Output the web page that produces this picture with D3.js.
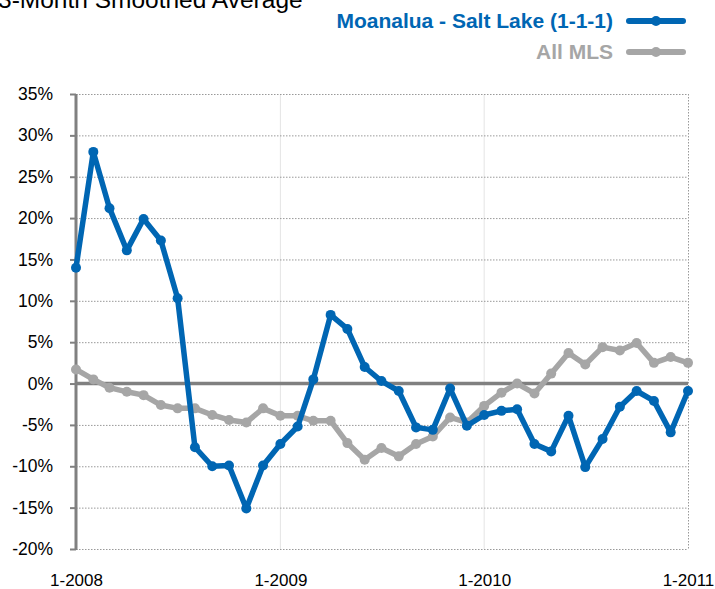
<!DOCTYPE html>
<meta charset="UTF-8">
<style>
  body { margin: 0; background: #fff; }
  svg { display: block; font-family: Arial, "Liberation Sans", sans-serif; }
  .grid line { stroke: #999; stroke-width: 1; stroke-dasharray: 1.5 1.5; }
  .vgrid line { stroke: #e4e4e4; stroke-width: 1; }
  .tick text { fill: #000; }
</style>
<body>
<script src="https://cdn.jsdelivr.net/npm/d3@7"></script>
<script>
  // monthly, 1-2008 .. 1-2011
  var months = d3.timeMonth.range(new Date(2008, 0, 1), new Date(2011, 0, 2));
  var moanalua = [14.0, 28.0, 21.2, 16.1, 19.9, 17.3, 10.3, -7.7, -10.0, -9.9, -15.1, -9.9,
    -7.3, -5.2, 0.5, 8.3, 6.6, 2.0, 0.3, -0.9, -5.3, -5.6, -0.6, -5.1,
    -3.8, -3.3, -3.1, -7.3, -8.2, -3.9, -10.1, -6.7, -2.8, -0.9, -2.1, -5.9, -0.9];
  var allMLS = [1.7, 0.5, -0.5, -1.0, -1.4, -2.6, -3.0, -3.0, -3.8, -4.4, -4.7, -3.0,
    -3.9, -3.9, -4.5, -4.5, -7.2, -9.2, -7.8, -8.8, -7.3, -6.4, -4.1, -4.7,
    -2.7, -1.1, 0.0, -1.2, 1.2, 3.7, 2.3, 4.4, 4.0, 4.9, 2.5, 3.2, 2.5];
  var yTicks = [-20, -15, -10, -5, 0, 5, 10, 15, 20, 25, 30, 35];
  var xTicks = [new Date(2008, 0, 1), new Date(2009, 0, 1), new Date(2010, 0, 1), new Date(2011, 0, 1)];

  var series = [
    { name: "All MLS", values: allMLS, color: "#a6a6a6" },
    { name: "Moanalua - Salt Lake (1-1-1)", values: moanalua, color: "#0066b3" }
  ];

  var width = 715, height = 589;
  var plot = { left: 76, right: 688, top: 94, bottom: 549 };

  var svg = d3.select("body").append("svg")
    .attr("width", width)
    .attr("height", height);

  var x = d3.scaleTime()
    .domain([months[0], months[months.length - 1]])
    .range([plot.left, plot.right]);

  var y = d3.scaleLinear()
    .domain([-20, 35])
    .range([plot.bottom, plot.top]);

  // title (cut off at the top, as in the source)
  svg.append("text")
    .attr("x", -2)
    .attr("y", 8)
    .attr("font-size", 24.5)
    .attr("fill", "#000")
    .text("3-Month Smoothed Average");

  // vertical year lines
  svg.append("g")
    .attr("class", "vgrid")
    .selectAll("line")
    .data(xTicks.slice(1, 3))
    .enter().append("line")
    .attr("x1", function(d) { return x(d); })
    .attr("x2", function(d) { return x(d); })
    .attr("y1", plot.top)
    .attr("y2", plot.bottom);

  // horizontal dotted grid
  svg.append("g")
    .attr("class", "grid")
    .selectAll("line")
    .data(yTicks)
    .enter().append("line")
    .attr("x1", plot.left)
    .attr("x2", plot.right)
    .attr("y1", function(d) { return y(d) + 0.5; })
    .attr("y2", function(d) { return y(d) + 0.5; });

  // right border, dotted
  svg.append("line")
    .attr("x1", plot.right + 0.5).attr("x2", plot.right + 0.5)
    .attr("y1", plot.top).attr("y2", plot.bottom)
    .attr("stroke", "#999")
    .attr("stroke-dasharray", "1.5 1.5");

  // y axis
  var yAxis = svg.append("g")
    .attr("transform", "translate(" + plot.left + ",0)")
    .call(d3.axisLeft(y)
      .tickValues(yTicks)
      .tickSize(6)
      .tickPadding(17)
      .tickFormat(function(d) { return d + "%"; }));
  yAxis.select(".domain")
    .attr("stroke", "#808080")
    .attr("stroke-width", 3)
    .attr("d", "M0," + plot.top + "V" + (plot.bottom + 1));
  yAxis.selectAll(".tick line").attr("stroke", "#808080").attr("stroke-width", 2);
  yAxis.selectAll(".tick text").attr("font-size", 17.5).attr("font-family", "Arial, 'Liberation Sans', sans-serif");

  // x axis labels
  var xAxis = svg.append("g")
    .attr("transform", "translate(0," + plot.bottom + ")")
    .call(d3.axisBottom(x)
      .tickValues(xTicks)
      .tickSize(0)
      .tickPadding(25)
      .tickFormat(function(d) { return (d.getMonth() + 1) + "-" + d.getFullYear(); }));
  xAxis.select(".domain").remove();
  xAxis.selectAll(".tick text").attr("font-size", 17).attr("font-family", "Arial, 'Liberation Sans', sans-serif");

  // zero line
  svg.append("line")
    .attr("x1", plot.left)
    .attr("x2", plot.right)
    .attr("y1", y(0))
    .attr("y2", y(0))
    .attr("stroke", "#808080")
    .attr("stroke-width", 3.5);

  var line = d3.line()
    .x(function(d, i) { return x(months[i]); })
    .y(function(d) { return y(d); });

  series.forEach(function(s) {
    svg.append("path")
      .datum(s.values)
      .attr("fill", "none")
      .attr("stroke", s.color)
      .attr("stroke-width", 5.5)
      .attr("stroke-linejoin", "round")
      .attr("d", line);

    svg.append("g")
      .selectAll("circle")
      .data(s.values)
      .enter().append("circle")
      .attr("cx", function(d, i) { return x(months[i]); })
      .attr("cy", function(d) { return y(d); })
      .attr("r", 5)
      .attr("fill", s.color);
  });

  // legend
  var legend = [
    { name: series[1].name, color: series[1].color, y: 21 },
    { name: series[0].name, color: series[0].color, y: 52 }
  ];
  var lg = svg.append("g").selectAll("g")
    .data(legend)
    .enter().append("g")
    .attr("transform", function(d) { return "translate(0," + d.y + ")"; });
  lg.append("text")
    .attr("x", 613)
    .attr("y", 7)
    .attr("text-anchor", "end")
    .attr("font-size", 21)
    .attr("font-weight", "bold")
    .attr("fill", function(d) { return d.color; })
    .text(function(d) { return d.name; });
  lg.append("line")
    .attr("x1", 629).attr("x2", 683)
    .attr("stroke", function(d) { return d.color; })
    .attr("stroke-width", 6)
    .attr("stroke-linecap", "round");
  lg.append("circle")
    .attr("cx", 656)
    .attr("r", 5)
    .attr("fill", function(d) { return d.color; });
</script>
</body>
